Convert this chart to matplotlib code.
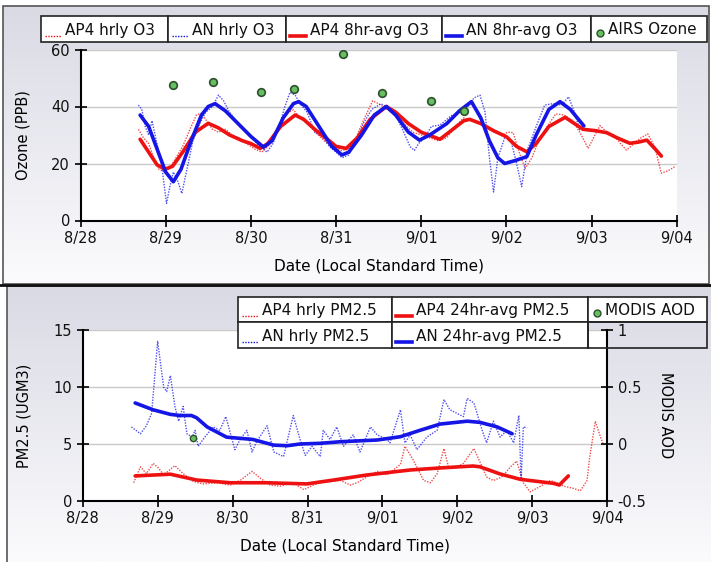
import matplotlib
matplotlib.use("Agg")
import matplotlib.pyplot as plt
import numpy as np
from matplotlib.patches import Rectangle

# ---- data (x = days since 8/28 00:00 LST) ----
DATE_TICKS = ["8/28", "8/29", "8/30", "8/31", "9/01", "9/02", "9/03", "9/04"]

o3_an_hr_t = [0.68, 0.72, 0.76, 0.80, 0.84, 0.89, 0.95, 1.01, 1.05, 1.09, 1.14, 1.19, 1.25, 1.32,
              1.40, 1.47, 1.55, 1.62, 1.68, 1.74, 1.80, 1.87, 1.95, 2.02, 2.10, 2.19, 2.26, 2.33,
              2.40, 2.46, 2.52, 2.58, 2.66, 2.75, 2.85, 2.92, 3.00, 3.07, 3.15, 3.22, 3.32, 3.42,
              3.53, 3.62, 3.70, 3.78, 3.87, 3.92, 3.97, 4.04, 4.12, 4.22, 4.35, 4.45, 4.55, 4.62,
              4.69, 4.75, 4.80, 4.85, 4.90, 4.98, 5.05, 5.12, 5.18, 5.25, 5.35, 5.45, 5.55, 5.65,
              5.73, 5.80, 5.86, 5.90]
o3_an_hr = [40.5, 39, 33, 30, 35, 28, 20, 6, 12, 17, 14, 9.5, 18, 28,
            34, 38, 40, 44, 42, 38.5, 36, 33, 31, 29, 26, 24, 27, 33,
            40, 45, 44, 41, 38, 31, 29, 26, 24, 22, 23, 27, 34, 39,
            41, 39, 37, 32, 25.9, 24.6, 27, 29, 33, 33.5, 36.7, 38, 40, 43,
            44, 38, 22.4, 10, 22, 29, 28.5, 20, 11.9, 25, 33, 40.5, 41, 40.5,
            43.4, 38, 31.8, 33]

o3_ap4_hr_t = [0.68, 0.74, 0.80, 0.86, 0.92, 0.99, 1.05, 1.12, 1.20, 1.30, 1.36, 1.42, 1.48, 1.55,
               1.62, 1.70, 1.78, 1.86, 1.95, 2.05, 2.13, 2.20, 2.28, 2.36, 2.44, 2.50, 2.58, 2.66,
               2.76, 2.86, 2.96, 3.06, 3.14, 3.22, 3.32, 3.43, 3.50, 3.60, 3.70, 3.80, 3.90, 4.00,
               4.10, 4.20, 4.30, 4.40, 4.50, 4.58, 4.66, 4.76, 4.86, 4.95, 5.02, 5.08, 5.15, 5.22,
               5.30, 5.38, 5.48, 5.58, 5.68, 5.78, 5.88, 5.96, 6.04, 6.10, 6.18, 6.26, 6.34, 6.41,
               6.50, 6.58, 6.66, 6.74, 6.82, 6.90, 6.98]
o3_ap4_hr = [32, 29, 27, 22, 18, 17, 18.5, 22, 26, 33, 37, 37.6, 35, 32,
             31, 32, 30, 29, 27, 25, 24, 26, 29, 35, 38, 38.8, 36, 34,
             31, 28, 26, 24.5, 25, 28, 35, 42, 41, 39, 37, 34, 31, 30,
             29, 28, 29, 33, 36, 35, 34.5, 33, 31, 30, 31, 30.8, 24, 18.3,
             22, 28, 33, 37.4, 37, 35, 30, 25.3, 30, 33.3, 31, 30, 27, 24.7,
             27, 29, 30.4, 26, 16.6, 17.5, 18.9]

o3_an_8h_t = [0.70, 0.80, 0.90, 1.00, 1.09, 1.18, 1.30, 1.42, 1.50, 1.58, 1.70, 1.85, 2.00, 2.15,
              2.25, 2.38, 2.50, 2.56, 2.65, 2.80, 2.95, 3.07, 3.15, 3.30, 3.45, 3.59, 3.70, 3.85,
              3.98, 4.10, 4.30, 4.45, 4.59, 4.70, 4.80, 4.90, 4.98, 5.10, 5.24, 5.35, 5.50, 5.63,
              5.75, 5.91]
o3_an_8h = [37, 33, 25, 17, 13.6, 18, 28, 37, 40, 41, 38.5, 34, 29.5, 25.7,
            28, 36, 41, 41.7, 40, 33, 26, 23, 24, 30, 37, 40, 37, 31,
            28.2, 30, 34, 38.5, 41.7, 36, 28, 22, 20, 21, 22.4, 30, 39, 41.7,
            39, 33.2]

o3_ap4_8h_t = [0.70, 0.80, 0.90, 0.99, 1.08, 1.20, 1.35, 1.50, 1.62, 1.75, 1.90, 2.00, 2.11, 2.20,
               2.35, 2.52, 2.62, 2.75, 2.90, 3.00, 3.12, 3.25, 3.40, 3.59, 3.70, 3.85, 4.00, 4.22,
               4.35, 4.50, 4.57, 4.70, 4.85, 5.00, 5.12, 5.24, 5.35, 5.50, 5.69, 5.80, 5.90, 6.05,
               6.18, 6.30, 6.45, 6.55, 6.65, 6.75, 6.82]
o3_ap4_8h = [28.5, 24, 19.5, 18, 19, 24, 31, 34.1, 32.5, 30, 28, 27, 25.3, 27,
             33, 37, 35.5, 32, 28.5, 26, 25.3, 29, 35.5, 40, 38, 34, 31, 28.5,
             31.5, 35, 35.5, 34, 31.5, 29.4, 26, 24.1, 27, 33, 36.2, 34, 32, 31.5,
             30.8, 29, 27.1, 27.5, 28.2, 25, 22.6]

airs_t = [1.09, 1.56, 2.12, 2.51, 3.08, 3.54, 4.11, 4.50]
airs_o3 = [47.5, 48.7, 45.2, 46.0, 58.3, 44.8, 41.9, 38.4]

pm_an_hr_t = [0.65, 0.77, 0.85, 0.92, 1.00, 1.08, 1.12, 1.17, 1.23, 1.28, 1.34, 1.39, 1.46, 1.50,
              1.54, 1.63, 1.74, 1.83, 1.91, 2.03, 2.10, 2.19, 2.26, 2.32, 2.46, 2.55, 2.68, 2.81,
              2.90, 2.97, 3.06, 3.17, 3.21, 3.30, 3.39, 3.48, 3.61, 3.70, 3.84, 3.93, 4.06, 4.10,
              4.24, 4.30, 4.37, 4.46, 4.59, 4.73, 4.82, 4.90, 4.99, 5.08, 5.13, 5.22, 5.33, 5.39,
              5.48, 5.57, 5.66, 5.75, 5.82, 5.85, 5.88, 5.93]
pm_an_hr = [6.5, 5.9, 6.6, 7.7, 14.0, 10.0, 9.6, 11.0, 8.3, 7.0, 8.3, 5.9, 5.6, 6.2,
            4.8, 5.6, 6.5, 6.2, 7.4, 4.5, 5.4, 6.2, 4.3, 5.2, 6.6, 4.3, 3.9, 7.5,
            5.4, 4.0, 4.8, 3.9, 6.2, 5.4, 6.5, 4.8, 5.8, 4.3, 6.5, 5.8, 5.4, 5.1,
            8.0, 5.1, 5.8, 4.5, 5.6, 6.2, 8.9, 8.0, 7.7, 7.4, 9.0, 8.6, 6.2, 5.1,
            7.0, 5.6, 6.2, 5.1, 7.5, 1.8, 6.5, 6.4]

pm_ap4_hr_t = [0.68, 0.77, 0.85, 0.94, 1.01, 1.08, 1.23, 1.34, 1.48, 1.61, 1.79, 1.97, 2.10, 2.26,
               2.37, 2.50, 2.63, 2.81, 2.95, 3.08, 3.17, 3.30, 3.44, 3.57, 3.66, 3.79, 3.93, 4.06,
               4.24, 4.30, 4.41, 4.55, 4.64, 4.73, 4.82, 4.88, 4.97, 5.08, 5.22, 5.33, 5.39, 5.48,
               5.59, 5.71, 5.79, 5.88, 5.97, 6.11, 6.24, 6.33, 6.42, 6.55, 6.64, 6.73, 6.76, 6.84,
               6.91, 6.95]
pm_ap4_hr = [1.6, 3.0, 2.4, 3.3, 2.9, 2.3, 3.1, 2.4, 1.7, 1.5, 1.6, 1.4, 1.8, 2.6,
             2.0, 1.4, 1.3, 1.6, 1.0, 1.4, 1.6, 1.7, 1.8, 1.4, 1.6, 2.1, 2.6, 2.3,
             3.2, 4.8, 3.6, 1.8, 1.6, 2.4, 4.6, 3.0, 2.9, 3.3, 4.6, 3.0, 2.1, 1.8,
             2.1, 3.0, 3.5, 1.6, 0.8, 1.3, 1.8, 1.6, 1.3, 1.1, 0.9, 1.8, 3.6, 7.0,
             5.6, 4.9]

pm_an_24h_t = [0.70, 0.94, 1.17, 1.30, 1.45, 1.52, 1.66, 1.92, 2.27, 2.55, 2.73, 2.90, 3.17, 3.44,
               3.93, 4.24, 4.50, 4.77, 5.13, 5.30, 5.53, 5.73]
pm_an_24h = [8.6, 8.0, 7.6, 7.5, 7.5, 7.3, 6.5, 5.6, 5.4, 4.9, 4.85, 5.0, 5.06, 5.2,
             5.35, 5.64, 6.2, 6.75, 7.0, 6.9, 6.5, 5.9]

pm_ap4_24h_t = [0.70, 1.17, 1.52, 1.97, 2.45, 2.99, 3.35, 3.79, 4.37, 4.77, 5.21, 5.30, 5.57, 5.84,
                6.28, 6.36, 6.48]
pm_ap4_24h = [2.2, 2.35, 1.84, 1.6, 1.6, 1.5, 1.84, 2.28, 2.72, 2.9, 3.07, 3.0, 2.37, 1.9,
              1.55, 1.4, 2.2]

modis_t = [1.47]
modis_aod = [0.05]

RED, BLUE, GREEN = "#ee1111", "#1515e6", "#66c060"
W, H = 711, 562
HOURLY = dict(lw=1, ls=(0, (1, 1)), alpha=0.75)


def px(x0, y0, x1, y1):
    """pixel box (top-left origin) -> figure rect"""
    return [x0 / W, 1 - y1 / H, (x1 - x0) / W, (y1 - y0) / H]


def style_axis(ax):
    for s in ["top", "right"]:
        ax.spines[s].set_visible(False)
    ax.spines["left"].set_linewidth(1.5)
    ax.spines["bottom"].set_linewidth(1.5)
    ax.tick_params(direction="inout", length=9, width=1.3, labelsize=10.5,
                   pad=3, colors="#111")
    ax.grid(True, axis="y", color="#c9c9c9", lw=1)
    ax.set_axisbelow(True)
    ax.set_xlim(0, 7)
    ax.set_xticks(range(8))
    ax.set_xticklabels(DATE_TICKS)
    ax.set_xlabel("Date (Local Standard Time)", fontsize=11, labelpad=9)


fig = plt.figure(figsize=(W / 100, H / 100), dpi=100)

# panel backgrounds (vertical grey gradient)
bg = fig.add_axes([0, 0, 1, 1], zorder=-10)
bg.set_xlim(0, W)
bg.set_ylim(H, 0)
bg.axis("off")
grad = np.linspace(0, 1, 100).reshape(-1, 1)
cmap = matplotlib.colors.LinearSegmentedColormap.from_list("g", ["#d9dae4", "#fbfbfd"])
bg.imshow(grad, extent=(3, 709, 284, 6), aspect="auto", cmap=cmap)
bg.imshow(grad, extent=(7, 711, 562, 286), aspect="auto", cmap=cmap)
bg.add_patch(Rectangle((3, 6), 706, 278, fc="none", ec="#555", lw=1.2))
bg.add_patch(Rectangle((7, 286), 710, 280, fc="none", ec="#555", lw=1.2))
bg.plot([0, W], [285, 285], color="#111", lw=2)

# ---- top: ozone ----
ax1 = fig.add_axes(px(80.5, 49.5, 676.7, 220.5))
style_axis(ax1)
ax1.plot(o3_ap4_hr_t, o3_ap4_hr, color=RED, **HOURLY)
ax1.plot(o3_an_hr_t, o3_an_hr, color=BLUE, **HOURLY)
ax1.plot(o3_ap4_8h_t, o3_ap4_8h, color=RED, lw=2.6, solid_capstyle="round")
ax1.plot(o3_an_8h_t, o3_an_8h, color=BLUE, lw=2.6, solid_capstyle="round")
ax1.plot(airs_t, airs_o3, "o", ms=5.5, mfc=GREEN, mec="#2f4f2f", mew=1.2)
ax1.set_ylim(0, 60)
ax1.set_yticks([0, 20, 40, 60])
ax1.set_ylabel("Ozone (PPB)", fontsize=10.5, labelpad=15)

# ---- bottom: PM2.5 ----
ax2 = fig.add_axes(px(82.7, 330, 607.3, 501))
style_axis(ax2)
ax2.plot(pm_ap4_hr_t, pm_ap4_hr, color=RED, **HOURLY)
ax2.plot(pm_an_hr_t, pm_an_hr, color=BLUE, **HOURLY)
ax2.plot(pm_ap4_24h_t, pm_ap4_24h, color=RED, lw=2.6, solid_capstyle="round")
ax2.plot(pm_an_24h_t, pm_an_24h, color=BLUE, lw=2.6, solid_capstyle="round")
ax2.set_ylim(0, 15)
ax2.set_yticks([0, 5, 10, 15])
ax2.set_ylabel("PM2.5 (UGM3)", fontsize=10.5, labelpad=16)

ax3 = ax2.twinx()
for s in ["top", "left", "bottom"]:
    ax3.spines[s].set_visible(False)
ax3.spines["right"].set_linewidth(1.5)
ax3.plot(modis_t, modis_aod, "o", ms=4.5, mfc=GREEN, mec="#2f4f2f", mew=1)
ax3.set_ylim(-0.5, 1)
ax3.set_yticks([-0.5, 0, 0.5, 1])
ax3.set_yticklabels(["-0.5", "0", "0.5", "1"])
ax3.tick_params(direction="inout", length=9, width=1.3, labelsize=10.5, pad=3, colors="#111")
ax3.set_ylabel("MODIS AOD", fontsize=10.5, rotation=270, labelpad=19)

# ---- boxed legends drawn as cells ----
ov = fig.add_axes([0, 0, 1, 1], zorder=10)
ov.set_xlim(0, W)
ov.set_ylim(H, 0)
ov.axis("off")
ov.patch.set_visible(False)

SAMPLES = {
    "red_dot": dict(color=RED, lw=1, ls=(0, (1, 1))),
    "blue_dot": dict(color=BLUE, lw=1, ls=(0, (1, 1))),
    "red": dict(color=RED, lw=2.6),
    "blue": dict(color=BLUE, lw=2.6),
}


def cell(x0, x1, y0, y1, label, kind):
    ov.add_patch(Rectangle((x0, y0), x1 - x0, y1 - y0, fc="white" if label else "none",
                           ec="#222", lw=1.2))
    if kind == "marker":
        ov.plot([x0 + 9], [y1 - 9], "o", ms=5, mfc=GREEN, mec="#2f4f2f", mew=1)
        tx = x0 + 17
    elif kind:
        ov.plot([x0 + 4, x0 + 20], [y1 - 6, y1 - 6], **SAMPLES[kind])
        tx = x0 + 24
    else:
        return
    ov.text(tx, (y0 + y1) / 2 + 1, label, fontsize=11, va="center", ha="left", color="#111")


top_cells = [("AP4 hrly O3", "red_dot"), ("AN hrly O3", "blue_dot"),
             ("AP4 8hr-avg O3", "red"), ("AN 8hr-avg O3", "blue"), ("AIRS Ozone", "marker")]
top_x = [41, 168, 286, 442, 591, 707]
for i, (lab, kind) in enumerate(top_cells):
    cell(top_x[i], top_x[i + 1], 16, 42, lab, kind)

bot_rows = [[("AP4 hrly PM2.5", "red_dot"), ("AP4 24hr-avg PM2.5", "red"), ("MODIS AOD", "marker")],
            [("AN hrly PM2.5", "blue_dot"), ("AN 24hr-avg PM2.5", "blue"), ("", None)]]
bot_x = [238, 392, 588, 707]
bot_y = [297, 322, 348]
for r, row in enumerate(bot_rows):
    for i, (lab, kind) in enumerate(row):
        cell(bot_x[i], bot_x[i + 1], bot_y[r], bot_y[r + 1], lab, kind)

fig.savefig("out.png", dpi=100)
